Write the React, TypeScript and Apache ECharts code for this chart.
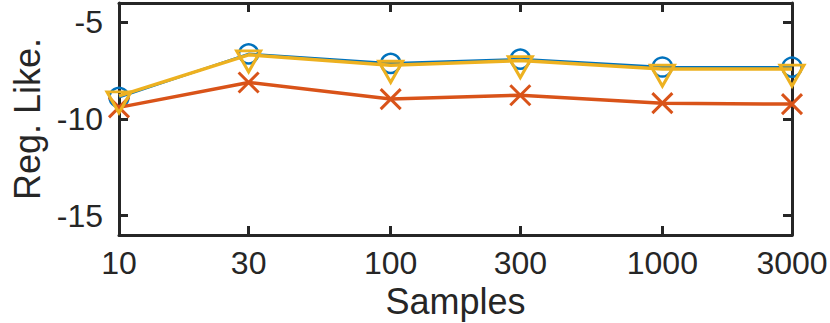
import React, { useEffect, useRef } from "react";
import * as echarts from "echarts";

const samples = [10, 30, 100, 300, 1000, 3000];
const xTickValues = [10, 30, 100, 300, 1000, 3000];
const yTickValues = [-15, -10, -5];
const blueValues = [-8.88, -6.63, -7.12, -6.9, -7.31, -7.32];
const orangeValues = [-9.4, -8.11, -8.97, -8.77, -9.18, -9.23];
const yellowValues = [-8.8, -6.68, -7.22, -6.98, -7.42, -7.42];

const BLUE = "#0072BD";
const ORANGE = "#D95319";
const YELLOW = "#EDB120";
const AXIS = "#262626";
const FONT = "Liberation Sans";

const pairs = (vals: number[]) => samples.map((s, i) => [s, vals[i]]);

export default function App() {
  const ref = useRef<HTMLDivElement>(null);
  useEffect(() => {
    if (!ref.current) return;
    const chart = echarts.init(ref.current, undefined, { renderer: "svg" });
    const axisLine = { show: true, lineStyle: { color: AXIS, width: 3 } };
    const tick = (vals: number[]) => ({
      show: true,
      inside: true,
      length: 9,
      customValues: vals,
      lineStyle: { color: AXIS, width: 3 },
    });
    const xBase = {
      type: "log" as const,
      logBase: 10,
      min: 10,
      max: 3000,
      splitLine: { show: false },
      minorTick: { show: false },
      axisLine,
    };
    const yBase = {
      type: "value" as const,
      min: -16,
      max: -4,
      splitLine: { show: false },
      axisLine,
    };
    chart.setOption({
      animation: false,
      backgroundColor: "#ffffff",
      grid: { left: 119, right: 38, top: 3, bottom: 88, containLabel: false, outerBoundsMode: "none" },
      xAxis: [
        {
          ...xBase,
          position: "bottom",
          name: "Samples",
          nameLocation: "middle",
          nameGap: 43,
          nameTextStyle: { fontFamily: FONT, fontSize: 36, color: AXIS },
          axisTick: tick(xTickValues),
          axisLabel: {
            show: true,
            customValues: xTickValues,
            margin: 12,
            fontFamily: FONT,
            fontSize: 32,
            color: AXIS,
            formatter: (v: number) => String(Math.round(v)),
          },
        },
        {
          ...xBase,
          position: "top",
          axisTick: tick(xTickValues),
          axisLabel: { show: false },
        },
      ],
      yAxis: [
        {
          ...yBase,
          position: "left",
          name: "Reg. Like.",
          nameLocation: "middle",
          nameGap: 74,
          nameRotate: 90,
          nameTextStyle: { fontFamily: FONT, fontSize: 36, color: AXIS },
          axisTick: tick(yTickValues),
          axisLabel: { show: true, customValues: yTickValues, margin: 16, fontFamily: FONT, fontSize: 32, color: AXIS },
        },
        {
          ...yBase,
          position: "right",
          axisTick: tick(yTickValues),
          axisLabel: { show: false },
        },
      ],
      series: [
        {
          type: "line",
          data: pairs(blueValues),
          symbol: "circle",
          symbolSize: 19,
          itemStyle: { color: "rgba(0,0,0,0)", borderColor: BLUE, borderWidth: 2.5 },
          lineStyle: { color: BLUE, width: 2.5 },
          z: 2,
        },
        {
          type: "line",
          data: pairs(orangeValues),
          symbol: "path://M0,0 L10,10 M10,0 L0,10",
          symbolSize: 20,
          itemStyle: { color: "rgba(0,0,0,0)", borderColor: ORANGE, borderWidth: 3 },
          lineStyle: { color: ORANGE, width: 3.5 },
          z: 3,
        },
        {
          type: "line",
          data: pairs(yellowValues),
          symbol: "path://M0,0 L20,0 L10,17.3 Z",
          symbolSize: [24, 21],
          symbolOffset: [0, 6.5],
          itemStyle: { color: "rgba(0,0,0,0)", borderColor: YELLOW, borderWidth: 3 },
          lineStyle: { color: YELLOW, width: 3.5 },
          z: 4,
        },
      ],
    });
    return () => chart.dispose();
  }, []);
  return (
    <div
      ref={ref}
      style={{ position: "absolute", left: 0, top: 0, width: 830, height: 323, background: "#fff" }}
    />
  );
}
